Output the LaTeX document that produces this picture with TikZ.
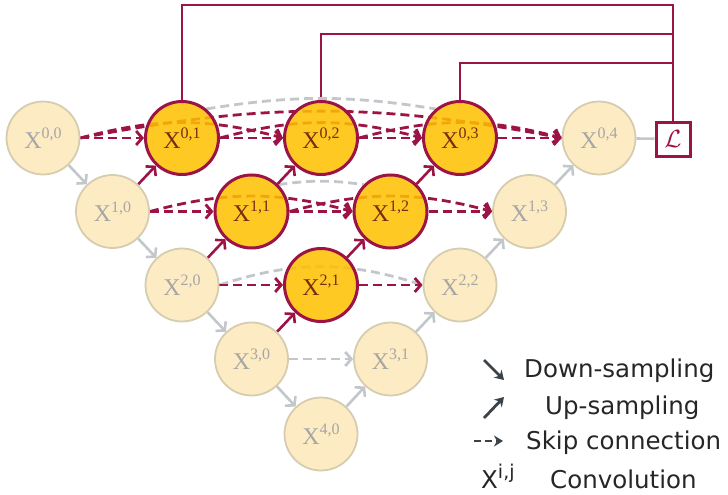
\documentclass[tikz,border=0pt]{standalone}
\usepackage{fontspec}
\setmainfont{Liberation Serif}
\newfontfamily\legfont{DejaVu Sans}
\usetikzlibrary{arrows.meta}
\definecolor{mrn}{HTML}{9C1345}
\definecolor{goldc}{HTML}{FFC000}
\definecolor{lightfill}{HTML}{FDEBC3}
\definecolor{lightdraw}{HTML}{D6CCB0}
\definecolor{graytxt}{HTML}{A6A6A6}
\definecolor{grayline}{HTML}{C3C7CB}
\definecolor{goldtxt}{HTML}{7A2A12}
\definecolor{legdark}{HTML}{3B4248}
\newcommand{\xlab}[2]{X\raisebox{0.4em}{\fontsize{16}{16}\selectfont #1,#2}}
\pgfdeclarelayer{bg}
\pgfsetlayers{bg,main}
\tikzset{
  lightnode/.style={circle, minimum size=73pt, inner sep=0pt, fill=lightfill, draw=lightdraw, line width=1.8pt, text=graytxt, font=\fontsize{24}{24}\selectfont},
  goldnode/.style={circle, minimum size=73pt, inner sep=0pt, fill=goldc, fill opacity=0.86, text opacity=1, draw=mrn, draw opacity=1, line width=3pt, text=goldtxt, font=\fontsize{24}{24}\selectfont},
  tip/.style={-{Straight Barb[length=6pt,width=14pt]}},
  skipm/.style={draw=mrn, line width=2.8pt, dash pattern=on 9pt off 5pt},
  skipg/.style={draw=grayline, line width=2.8pt, dash pattern=on 9pt off 5pt},
  upm/.style={draw=mrn, line width=2.6pt, tip},
  upg/.style={draw=grayline, line width=2.6pt, tip},
  topline/.style={draw=mrn, line width=2.6pt},
  lossbox/.style={draw=mrn, line width=3pt, fill=white, minimum size=34pt, inner sep=0pt, text=mrn, font=\fontsize{26}{26}\selectfont},
  legtext/.style={anchor=west, inner sep=0pt, text=black!85, font=\legfont\fontsize{24.5}{25}\selectfont},
  legarrow/.style={draw=legdark, line width=2.8pt, -{Stealth[length=9pt,width=11pt]}}
}
\begin{document}
\begin{tikzpicture}[x=1pt,y=1pt]
\useasboundingbox (0,0) rectangle (728,-495);
% nodes
\node[lightnode] (X00) at (43,-138) {\xlab{0}{0}};
\node[lightnode] (X10) at (112.5,-211.5) {\xlab{1}{0}};
\node[lightnode] (X20) at (182,-285) {\xlab{2}{0}};
\node[lightnode] (X30) at (251.5,-359) {\xlab{3}{0}};
\node[lightnode] (X40) at (321,-434) {\xlab{4}{0}};
\node[goldnode] (X01) at (182,-138) {\xlab{0}{1}};
\node[goldnode] (X11) at (251.5,-211.5) {\xlab{1}{1}};
\node[goldnode] (X21) at (321,-285) {\xlab{2}{1}};
\node[lightnode] (X31) at (390.5,-359) {\xlab{3}{1}};
\node[goldnode] (X02) at (321,-138) {\xlab{0}{2}};
\node[goldnode] (X12) at (390.5,-211.5) {\xlab{1}{2}};
\node[lightnode] (X22) at (460,-285) {\xlab{2}{2}};
\node[goldnode] (X03) at (460,-138) {\xlab{0}{3}};
\node[lightnode] (X13) at (529.5,-211.5) {\xlab{1}{3}};
\node[lightnode] (X04) at (599,-138) {\xlab{0}{4}};
\node[lossbox] (L) at (673,-139) {$\mathcal{L}$};
\coordinate (T1) at (673,-5);
\coordinate (T2) at (673,-34);
\coordinate (T3) at (673,-63);
\begin{pgfonlayer}{bg}
% top supervision lines
\draw[topline] (X01.north) |- (T1) -- (L.north);
\draw[topline] (X02.north) |- (T2);
\draw[topline] (X03.north) |- (T3);
\draw[draw=grayline, line width=2.6pt] (X04) -- (L);
% skip connections row 0
\draw[skipg] (X01.50) to[out=9,in=171] (X03.130);
\draw[skipm] (X00.east) to[out=11,in=169] (X04.west);
\draw[skipm, tip] (X00.east) to[out=15,in=165] (X02.west);
\draw[skipm, tip] (X01.east) to[out=15,in=165] (X03.west);
\draw[skipm, tip] (X02.east) to[out=15,in=165] (X04.west);
\draw[skipm, tip] (X00) -- (X01);
\draw[skipm, tip] (X01) -- (X02);
\draw[skipm, tip] (X02) -- (X03);
\draw[skipm, tip] (X03) -- (X04);
% row 1
\draw[skipg] (X11.45) to[out=8,in=172] (X12.135);
\draw[skipm, tip] (X10.east) to[out=15,in=165] (X12.west);
\draw[skipm, tip] (X11.east) to[out=15,in=165] (X13.west);
\draw[skipm, tip] (X10) -- (X11);
\draw[skipm, tip] (X11) -- (X12);
\draw[skipm, tip] (X12) -- (X13);
% row 2
\draw[skipg] (X20.east) to[out=18,in=162] (X22.west);
\draw[skipm, tip] (X20) -- (X21);
\draw[skipm, tip] (X21) -- (X22);
% row 3
\draw[skipg, tip] (X30) -- (X31);
% down-sampling
\draw[upg] (X00) -- (X10);
\draw[upg] (X10) -- (X20);
\draw[upg] (X20) -- (X30);
\draw[upg] (X30) -- (X40);
% up-sampling
\draw[upm] (X10) -- (X01);
\draw[upm] (X20) -- (X11);
\draw[upm] (X11) -- (X02);
\draw[upm] (X30) -- (X21);
\draw[upm] (X21) -- (X12);
\draw[upm] (X12) -- (X03);
\draw[upg] (X40) -- (X31);
\draw[upg] (X31) -- (X22);
\draw[upg] (X22) -- (X13);
\draw[upg] (X13) -- (X04);
\end{pgfonlayer}
% legend
\coordinate (d1) at (484,-360);
\coordinate (d2) at (504,-380);
\draw[legarrow] (d1) -- (d2);
\node[legtext] (tdown) at (524,-371) {Down-sampling};
\coordinate (u1) at (484,-418);
\coordinate (u2) at (504,-397);
\draw[legarrow] (u1) -- (u2);
\node[legtext] (tup) at (545,-408) {Up-sampling};
\coordinate (s1) at (474,-441);
\coordinate (s2) at (503,-441);
\draw[legarrow, dash pattern=on 7pt off 4pt] (s1) -- (s2);
\node[legtext] (tskip) at (526,-443) {Skip connection};
\node[legtext] (tx) at (481,-476) {X\raisebox{0.42em}{\fontsize{19}{19}\selectfont i,j}};
\node[legtext] (tconv) at (550,-479) {Convolution};
\end{tikzpicture}
\end{document}
